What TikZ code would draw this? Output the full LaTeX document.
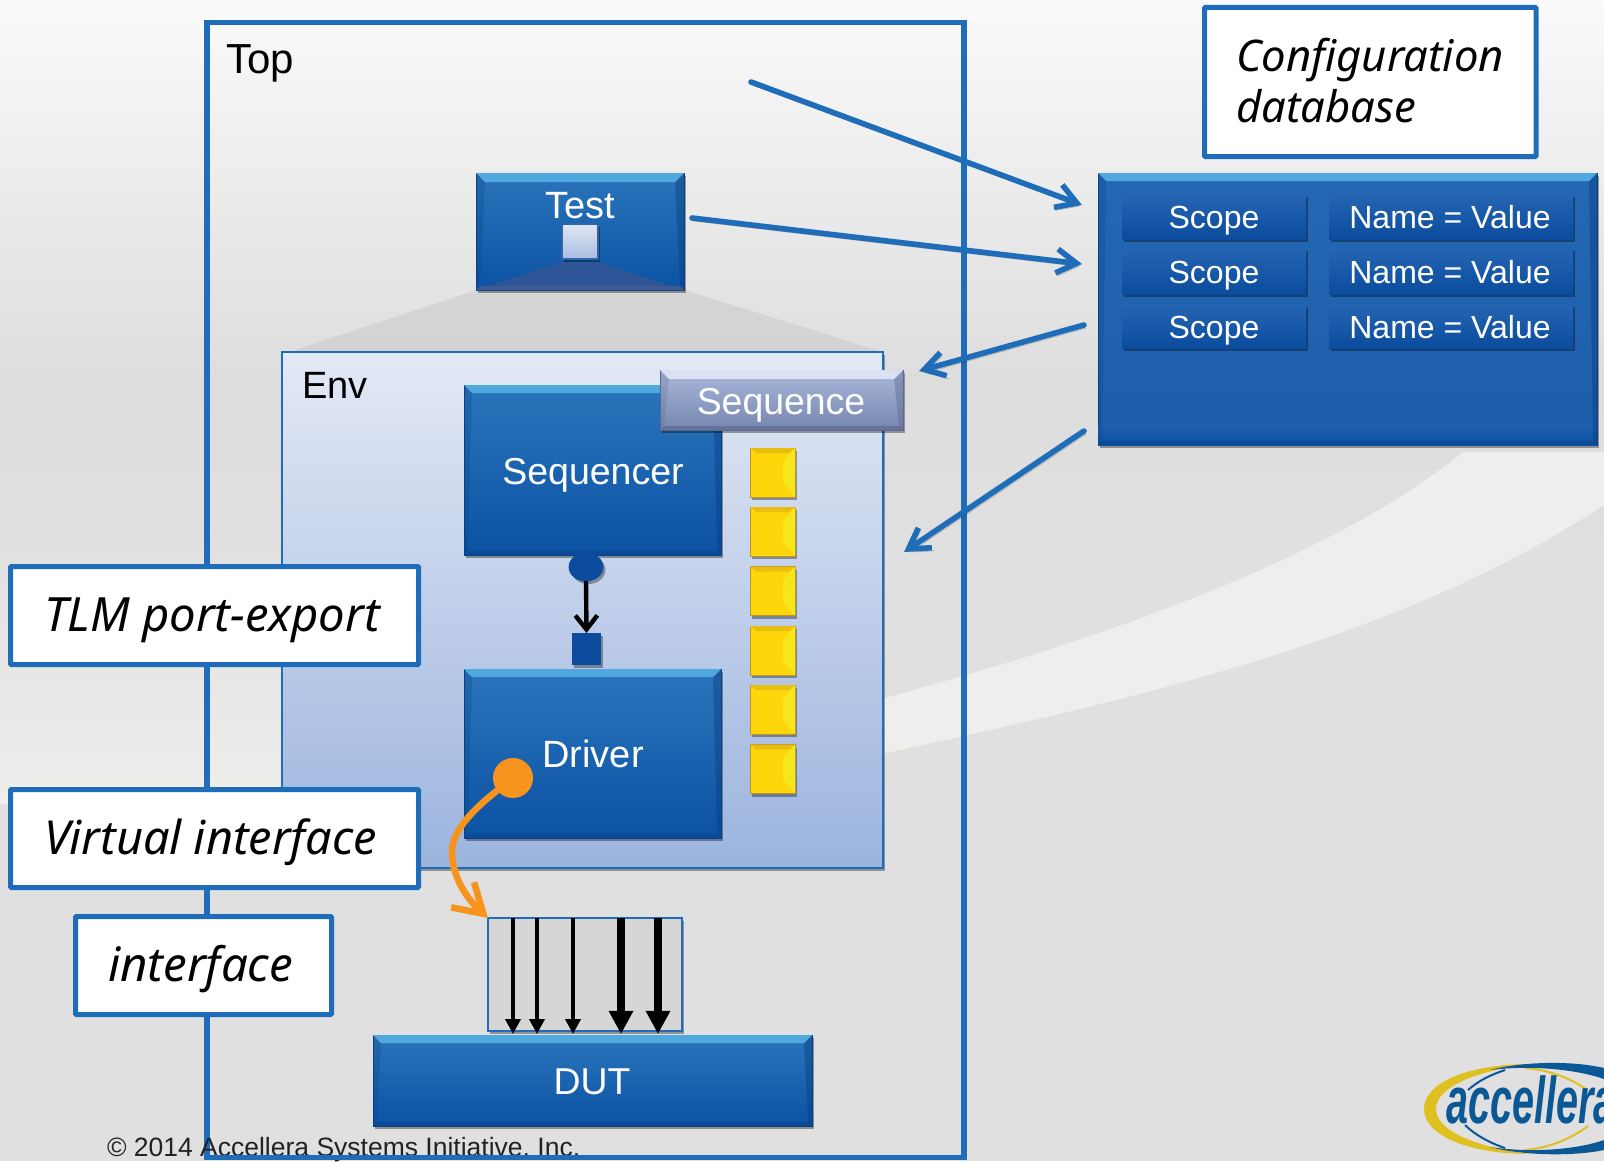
\documentclass[tikz,border=0pt]{standalone}
\usepackage{fontspec}
\setmainfont{Liberation Sans}
\newfontfamily\handfont{Noto Sans}
\usetikzlibrary{arrows.meta,shadows,calc,fadings,shapes.geometric}
\definecolor{bluetop}{HTML}{2B75BC}
\definecolor{bluemid}{HTML}{1F62AF}
\definecolor{bluebot}{HTML}{0B52A3}
\definecolor{lineblue}{HTML}{1F6DB8}
\definecolor{bevlight}{HTML}{4FA8DE}
\definecolor{bevdark}{HTML}{0A3F80}
\definecolor{seqtop}{HTML}{A9B8DA}
\definecolor{seqbot}{HTML}{7685AE}
\definecolor{seqline}{HTML}{5A668C}
\definecolor{celltop}{HTML}{2565B2}
\definecolor{cellbot}{HTML}{0B4C9E}
\definecolor{yellowfill}{HTML}{FFD60A}
\definecolor{yellowline}{HTML}{B8962A}
\definecolor{yellowlite}{HTML}{F5E71C}
\definecolor{yellowdark}{HTML}{E8BE10}
\definecolor{bggrey}{HTML}{E0E0E0}
\definecolor{bgmid}{HTML}{DDDDDD}
\definecolor{bgtop}{HTML}{FAFAFA}
\definecolor{swoosh}{HTML}{EEEEED}
\definecolor{envtop}{HTML}{E3E9F5}
\definecolor{envbot}{HTML}{9CB4DE}
\definecolor{wedge}{HTML}{2E5596}
\definecolor{wedgelow}{HTML}{3C5A94}
\definecolor{sqtop}{HTML}{E2E7F3}
\definecolor{sqbot}{HTML}{A8BBE0}
\definecolor{sqline}{HTML}{2E66AE}
\definecolor{seqlite}{HTML}{D9E1F2}
\definecolor{seqedge}{HTML}{5F6B92}
\definecolor{seqlow}{HTML}{66729A}
\definecolor{botedge}{HTML}{0A4A96}
\definecolor{orangec}{HTML}{F7941E}
\definecolor{logoyellow}{HTML}{E0C020}
\definecolor{logoblue}{HTML}{0A5896}
\definecolor{vifgrey}{HTML}{D6D6D6}
\definecolor{copyc}{HTML}{222222}
\definecolor{dbtop}{HTML}{2468B4}
\definecolor{dbbot}{HTML}{1C5DAC}
\tikzset{
  every node/.style={inner sep=0pt,outer sep=0pt},
  softshadow/.style={drop shadow={shadow xshift=1.2pt,shadow yshift=-1.5pt,opacity=.35,fill=black}},
  bluebox/.style={top color=bluetop,middle color=bluemid,bottom color=bluebot,draw=bevdark,line width=.5pt,softshadow,text=white},
  dbbox/.style={top color=dbtop,bottom color=dbbot,draw=bevdark,line width=.5pt,softshadow,text=white},
  seqbox/.style={top color=seqtop,bottom color=seqbot,draw=seqline,line width=.5pt,softshadow,text=white},
  cellbox/.style={top color=celltop,bottom color=cellbot,draw=none,softshadow},
  celltext/.style={anchor=base,text=white,font=\fontsize{16}{19}\selectfont},
  yellowbox/.style={fill=yellowfill,draw=yellowline,line width=.5pt,softshadow},
  notebox/.style={fill=white,draw=lineblue,line width=2.5pt,rounded corners=.5pt},
  cfgarrow/.style={draw=lineblue,line width=2.8pt,line cap=round,-{Straight Barb[length=10pt,width=12pt,line width=2.8pt]},
     preaction={draw=black,opacity=.22,transform canvas={xshift=1pt,yshift=-1.5pt}}},
  thinwire/.style={draw=black,line width=2pt,-{Triangle[length=7.5pt,width=7.5pt]}},
  thickwire/.style={draw=black,line width=3.7pt,-{Triangle[length=11.6pt,width=11.6pt]}},
  handtext/.style={anchor=base west,font=\handfont\itshape\fontsize{#1}{26}\selectfont},
}
% \pxbox{name}{x1}{y1}{x2}{y2}{style}{text}
\newcommand{\pxbox}[7]{%
  \pgfmathsetmacro{\pxw}{(#4-#2)*0.5}%
  \pgfmathsetmacro{\pxh}{(#5-#3)*0.5}%
  \node[#6,minimum width=\pxw pt,minimum height=\pxh pt] (#1) at ({(#2+#4)/2},{(#3+#5)/2}) {#7};%
}
% bevels: name, size (pt), top, sides, bottom
\newcommand{\bevel}[5]{%
  \fill[#4,opacity=.45] (#1.north east) -- (#1.south east) -- ($(#1.south east)+(-2pt,2pt)$) -- ($(#1.north east)+(-#2pt,-#2pt)$) -- cycle;
  \fill[#4,opacity=.25] (#1.north west) -- (#1.south west) -- ($(#1.south west)+(2pt,2pt)$) -- ($(#1.north west)+(#2pt,-#2pt)$) -- cycle;
  \fill[#3] (#1.north west) -- (#1.north east) -- ($(#1.north east)+(-#2pt,-#2pt)$) -- ($(#1.north west)+(#2pt,-#2pt)$) -- cycle;
  \fill[#5] (#1.south west) -- (#1.south east) -- ($(#1.south east)+(-2pt,2pt)$) -- ($(#1.south west)+(2pt,2pt)$) -- cycle;
}
\begin{document}
\begin{tikzpicture}[x=0.5pt,y=-0.5pt,font=\fontsize{18}{21}\selectfont]
\useasboundingbox (0,0) rectangle (1604,1161);
% background
\clip (0,0) rectangle (1604,1161);
\fill[bggrey] (0,0) rectangle (1604,1161);
\shade[top color=bgtop,bottom color=bgmid] (0,0) rectangle (1604,380);
\shade[top color=bgmid,bottom color=bggrey] (0,380) rectangle (1604,560);
\shade[top color=bggrey,bottom color=swoosh] (0,540) rectangle (282,803);
% swoosh
\fill[swoosh] (877,700) .. controls (1100,640) and (1330,560) .. (1463,452) -- (1604,452) -- (1604,505) .. controls (1400,640) and (1130,700) .. (877,755) -- cycle;
% top frame
\node[draw=lineblue,line width=2.6pt,minimum width=378.5pt,minimum height=567.5pt] (top) at ({(207+964)/2},{(22.5+1157)/2}) {};
\node[anchor=west,font=\fontsize{21}{24}\selectfont] (toplabel) at (226,63) {Top};
% grey projection
\fill[black!35,opacity=.22] (476,290) -- (684,290) -- (883,352) -- (290,352) -- cycle;
% env
\node[top color=envtop,bottom color=envbot,draw=lineblue,line width=1pt,minimum width=300.5pt,minimum height=258pt,softshadow] (env) at ({(282+883)/2},{(352+868)/2}) {};
\node[anchor=west,font=\fontsize{19}{23}\selectfont] (envlabel) at (302,385) {Env};
% test
\pxbox{test}{476}{173}{684}{290}{bluebox}{}
\fill[wedge] (476,290) -- (562,262) -- (598,262) -- (684,290) -- cycle;
\bevel{test}{4.5}{bevlight}{bevdark}{wedgelow}
\node[font=\fontsize{19}{23}\selectfont,text=white] (testlabel) at (580,206) {Test};
\pxbox{testsq}{562}{224}{598}{259}{top color=sqtop,bottom color=sqbot,draw=sqline,line width=.8pt,softshadow}{}
% sequencer
\pxbox{sequencer}{464}{385}{721}{555}{bluebox}{}
\bevel{sequencer}{4}{bevlight}{bevdark}{botedge}
\node[text=white,font=\fontsize{18.75}{23}\selectfont] (seqlabel) at (593,475) {Sequencer};
% sequence
\pxbox{sequence}{660}{370}{903}{430}{seqbox}{}
\bevel{sequence}{4.5}{seqlite}{seqedge}{seqlow}
\node[text=white,font=\fontsize{18.7}{23}\selectfont] (sequencelabel) at (781,405) {Sequence};
% yellow items
\foreach \n/\yy in {1/448,2/507,3/566.5,4/626,5/685,6/744.5}{
  \pxbox{item\n}{750}{\yy}{795}{\yy+49}{yellowbox}{}
  \fill[yellowlite] (item\n.north east) -- (item\n.south east) -- ($(item\n.south east)+(-6pt,7pt)$) -- ($(item\n.north east)+(-6pt,-7pt)$) -- cycle;
  \fill[yellowdark] (item\n.north west) -- (item\n.north east) -- ($(item\n.north east)+(-3pt,-2.5pt)$) -- ($(item\n.north west)+(3pt,-2.5pt)$) -- cycle;
}
% driver
\pxbox{driver}{464}{669}{721}{838}{bluebox}{}
\bevel{driver}{4}{bevlight}{bevdark}{botedge}
\node[text=white,font=\fontsize{19}{23}\selectfont] (driverlabel) at (593,754) {Driver};
% port / export
\node[ellipse,fill=cellbot,draw=cellbot,minimum width=17pt,minimum height=14pt,softshadow] (port) at (586,567) {};
\pxbox{export}{572}{633}{601}{665}{fill=cellbot,softshadow}{}
\draw[draw=black,line width=2.2pt,-{Straight Barb[length=7pt,width=11pt,line width=2.2pt]}] (port.south) -- (export.north);
% interface wires
\pxbox{vif}{488}{918}{682}{1031}{fill=vifgrey,draw=lineblue,line width=.9pt,softshadow}{}
\pxbox{dut}{373}{1035}{812}{1126}{bluebox}{}
\bevel{dut}{4}{bevlight}{bevdark}{botedge}
\node[text=white,font=\fontsize{18.7}{23}\selectfont] (dutlabel) at (592,1082) {DUT};
\foreach \wx/\wst in {513/thinwire,537/thinwire,573/thinwire,621/thickwire,658/thickwire}{
  \coordinate (wa) at (\wx,918);
  \coordinate (wb) at (\wx,1034);
  \draw[\wst] (wa) -- (wb);
}
% orange link
\node[circle,fill=orangec,minimum size=20pt] (dot) at (513,778) {};
\draw[draw=orangec,line width=3.3pt,line cap=round,-{Straight Barb[length=14pt,width=17pt,line width=3.3pt]}] (dot) .. controls (475,808) and (452,830) .. (452,852) .. controls (452,875) and (465,897) .. (vif.north west);
% config db
\pxbox{db}{1098}{173}{1597}{445}{dbbox}{}
\shade[top color=dbbot,bottom color=bluebot] (db.south west) ++(0,-18) rectangle (db.south east);
\bevel{db}{4}{bevlight}{bevdark}{botedge}
\foreach \n/\ya/\yb in {1/194/239,2/248/294,3/304/348}{
  \pxbox{scope\n}{1122}{\ya}{1306}{\yb}{cellbox}{}
  \pxbox{nv\n}{1329}{\ya}{1573}{\yb}{cellbox}{}
  \node[celltext] (scopetext\n) at ($(scope\n.center)+(0,12)$) {Scope};
  \node[celltext] (nvtext\n) at ($(nv\n.center)+(-1,12)$) {Name = Value};
}
% note boxes
\pxbox{cfg}{1204.5}{7.5}{1536}{156.5}{notebox}{}
\node[handtext=21.8] (cfg1) at (1236,72) {Configuration};
\node[handtext=21.8] (cfg2) at (1236,122) {database};
\pxbox{tlm}{10.5}{566.5}{418.5}{664.5}{notebox}{}
\node[handtext=23.6] (tlml) at (44,631) {TLM port-export};
\pxbox{virt}{10.5}{789.5}{418.5}{887.5}{notebox}{}
\node[handtext=23.4] (virl) at (44,854) {Virtual interface};
\pxbox{ifc}{75.5}{916.5}{331.5}{1014.5}{notebox}{}
\node[handtext=23.7] (ifcl) at (108,981) {interface};
% config arrows
\coordinate (a1s) at (751,82);  \coordinate (a1e) at (1082,205);
\coordinate (a2s) at (692,218); \coordinate (a2e) at (1082,264);
\coordinate (a3s) at (1084,325);\coordinate (a3e) at (919,371);
\coordinate (a4s) at (1084,431);\coordinate (a4e) at (904,552);
\foreach \s/\e in {a1s/a1e,a2s/a2e,a3s/a3e,a4s/a4e}{\draw[cfgarrow] (\s) -- (\e);}
% footer
\node[anchor=base west,font=\fontsize{13.25}{15}\selectfont,text=copyc] (copy) at (107,1156) {© 2014 Accellera Systems Initiative, Inc.};
\draw[draw=lineblue,line width=2.6pt] (top.south west) -- (top.south east);
% logo
\fill[logoyellow] (1530,1064) .. controls (1470,1064) and (1424,1082) .. (1424,1109) .. controls (1424,1136) and (1470,1154) .. (1530,1154) .. controls (1480,1148) and (1436,1132) .. (1436,1109) .. controls (1436,1086) and (1480,1070) .. (1530,1064) -- cycle;
\draw[logoyellow,line width=1pt] (1525,1068) .. controls (1550,1070) and (1572,1079) .. (1587,1090);
\draw[logoyellow,line width=1pt] (1525,1150) .. controls (1550,1148) and (1572,1138) .. (1588,1126);
\fill[logoblue] (1490,1070) .. controls (1520,1062) and (1570,1060) .. (1604,1068) -- (1604,1079) .. controls (1575,1069) and (1530,1065) .. (1490,1070) -- cycle;
\fill[logoblue] (1490,1147) .. controls (1520,1155) and (1570,1157) .. (1604,1150) -- (1604,1140) .. controls (1575,1150) and (1530,1153) .. (1490,1147) -- cycle;
\draw[logoblue,line width=1pt] (1468,1090) .. controls (1478,1081) and (1490,1075) .. (1505,1070);
\draw[logoblue,line width=1pt] (1465,1125) .. controls (1475,1135) and (1490,1143) .. (1505,1148);
\node[anchor=base west,font=\bfseries\itshape\fontsize{33}{36}\selectfont,text=logoblue,xscale=.6] (logo) at (1446,1123) {accellera};
\end{tikzpicture}
\end{document}
